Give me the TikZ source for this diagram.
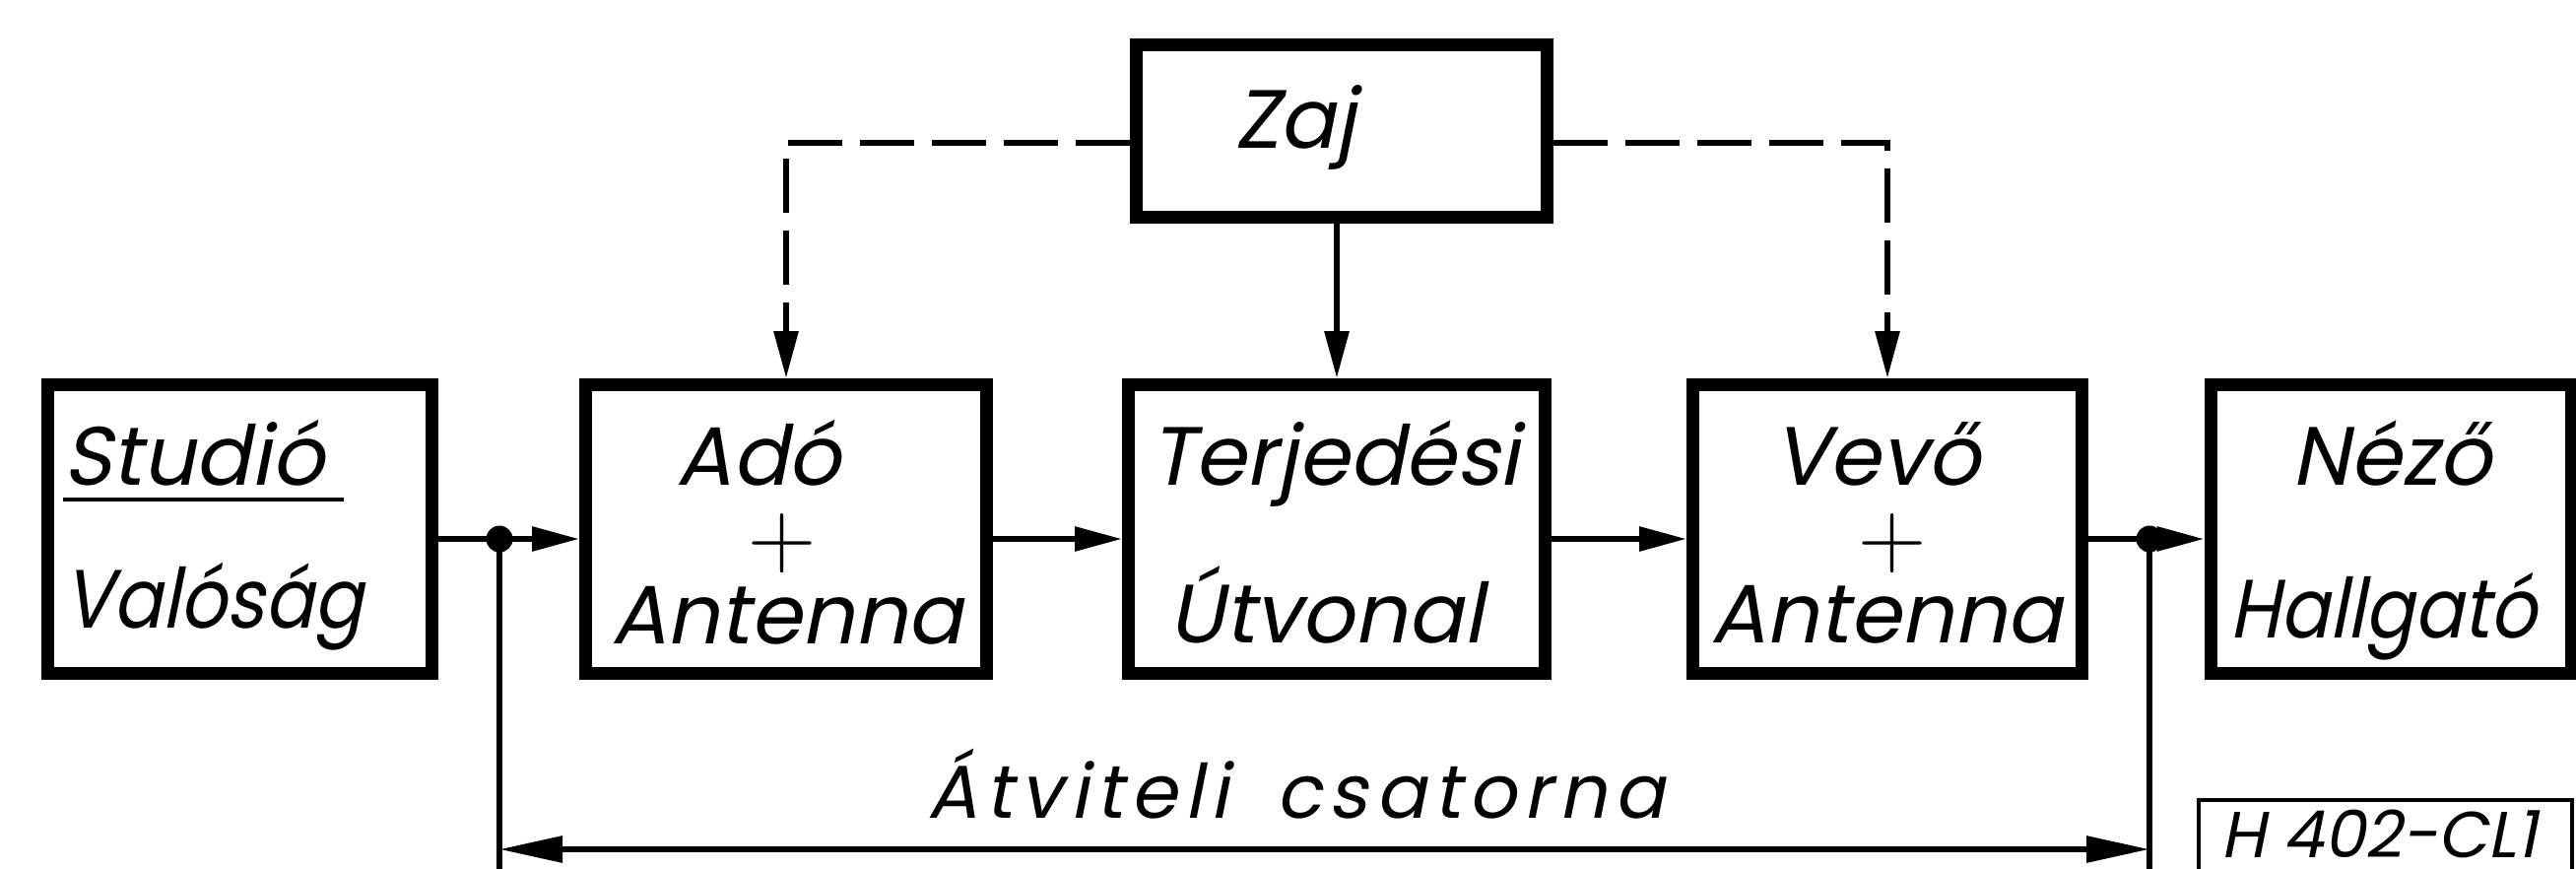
\documentclass[tikz,border=0pt]{standalone}
\usepackage{fontspec}
\newfontfamily\lett{Poppins}[FakeSlant=0.2]
\newfontfamily\lettn{Poppins}[FakeSlant=0.2,FakeStretch=0.88]
\newfontfamily\letts{Poppins}[FakeSlant=0.2,LetterSpace=10]
\newfontfamily\plusfont{Latin Modern Roman}
\usetikzlibrary{arrows.meta}
\tikzset{
  blk/.style={draw, line width=13pt, inner sep=0pt, minimum height=293pt},
  wire/.style={line width=6pt, line join=miter},
  dashwire/.style={wire, dash pattern=on 55pt off 18pt},
  head/.style={-{Triangle[length=48pt,width=24pt]}},
  twohead/.style={{Triangle[length=64pt,width=26pt]}-{Triangle[length=64pt,width=26pt]}},
  lbl/.style={anchor=base, inner sep=0pt, font=\lett\fontsize{84}{84}\selectfont},
  lbln/.style={lbl, font=\lettn\fontsize{84}{84}\selectfont},
  lblw/.style={lbl, anchor=base west},
  plus/.style={inner sep=0pt, font=\plusfont\fontsize{96}{96}\selectfont},
  dot/.style={circle, fill, inner sep=0pt, minimum size=27pt},
}
\begin{document}
\begin{tikzpicture}[x=1pt,y=-1pt]
\clip (0,0) rectangle (2615,881);
\fill[white] (0,0) rectangle (2615,881);

% reference levels
\coordinate (row)    at (0,547);
\coordinate (noise)  at (0,145);
\coordinate (chan)   at (0,862);
\coordinate (bottom) at (0,900);

% blocks
\node[blk, minimum width=390pt] (stu)  at (243.5,537) {};
\node[blk, minimum width=407pt] (ado)  at (798,537) {};
\node[blk, minimum width=423pt] (terj) at (1357,537) {};
\node[blk, minimum width=395pt] (vevo) at (1916,537) {};
\node[blk, minimum width=366pt] (nezo) at (2427,537) {};
\node[blk, minimum width=417pt, minimum height=175pt] (zaj) at (1362,133) {};

% block labels
\node[lblw] (t1a) at (64,492) {Studió};
\draw[line width=4pt] ([yshift=-15pt]t1a.base west) -- ([xshift=20pt,yshift=-15pt]t1a.base east);
\node[lblw, font=\lettn\fontsize{84}{84}\selectfont] (t1b) at (64,637) {Valóság};

\node[lbl] (t2a) at (770,492) {Adó};
\node[plus] (t2p) at (794,552) {+};
\node[lbl] (t2b) at (799,653) {Antenna};

\node[lbl] (t3a) at (1355,492) {Terjedési};
\node[lbl] (t3b) at (1346,652) {Útvonal};

\node[lbl] (t4a) at (1905,492) {Vevő};
\node[plus] (t4p) at (1921,552) {+};
\node[lbl] (t4b) at (1915,652) {Antenna};

\node[lbl] (t5a) at (2428,492) {Néző};
\node[lbln] (t5b) at (2419,647) {Hallgató};

\node[lbl] (t6) at (1315,150) {Zaj};

% signal chain
\coordinate (jl) at (507,547);
\coordinate (jr) at (2182,547);
\draw[wire] (stu.east |- row) -- (jl);
\draw[wire, head] (jl) -- (ado.west |- row);
\draw[wire, head] (ado.east |- row) -- (terj.west |- row);
\draw[wire, head] (terj.east |- row) -- (vevo.west |- row);
\draw[wire] (vevo.east |- row) -- (jr);
\draw[wire, head] (jr) -- (nezo.west |- row);
\node[dot] (dl) at (jl) {};
\node[dot] (dr) at (jr) {};

% noise paths
\draw[dashwire, head] (zaj.west |- noise) -| (ado.north);
\draw[wire, head] (zaj.south -| terj.north) -- (terj.north);
\draw[dashwire, head] (zaj.east |- noise) -| (vevo.north);

% channel span
\draw[wire] (jl) -- (jl |- bottom);
\draw[wire] (jr) -- (jr |- bottom);
\draw[wire, twohead] (jl |- chan) -- (jr |- chan);
\node[lbl, font=\letts\fontsize{76}{76}\selectfont] (t7) at (1316,830) {Átviteli\hspace{20pt} csatorna};

% drawing number
\draw[line width=4pt] (2232,900) |- (2611,812) -- (2611,900);
\node[lblw, font=\lett\fontsize{66}{66}\selectfont] (t8) at (2254,870) {H 402-CL1};
\end{tikzpicture}
\end{document}
